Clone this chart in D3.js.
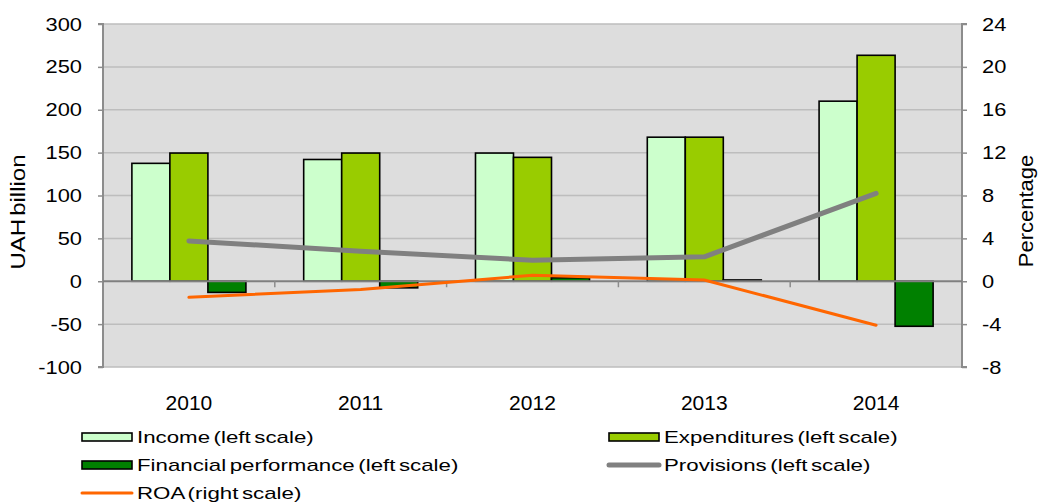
<!DOCTYPE html>
<html>
<head>
<meta charset="utf-8">
<script src="https://cdn.jsdelivr.net/npm/d3@7"></script>
<style>
  html, body { margin: 0; padding: 0; background: #fff; }
  svg { display: block; font-family: "Liberation Sans", Arial, sans-serif; }
</style>
</head>
<body>
<svg id="chart" width="1038" height="502"></svg>
<script>
// Banking sector results, UAH billion (left) and ROA in percent (right)
const years = ["2010", "2011", "2012", "2013", "2014"];
const income = [137.5, 142, 149.5, 168, 210];
const expenditures = [149.5, 149.5, 144.5, 168, 263.5];
const financialPerformance = [-13, -7.7, 4, 1.5, -52.5];
const provisions = [47, 35, 24.5, 28.5, 102.5];
const roa = [-1.5, -0.76, 0.55, 0.12, -4.1];

const leftTicks = [-100, -50, 0, 50, 100, 150, 200, 250, 300];
const rightTicks = [-8, -4, 0, 4, 8, 12, 16, 20, 24];

const barSeries = ["income", "expenditures", "financial"];
const barValues = { income, expenditures, financial: financialPerformance };
const barColors = { income: "#ccffcc", expenditures: "#99cc00", financial: "#008000" };

const legendItems = [
  { label: "Income (left scale)", type: "bar", color: "#ccffcc" },
  { label: "Expenditures (left scale)", type: "bar", color: "#99cc00" },
  { label: "Financial performance (left scale)", type: "bar", color: "#008000" },
  { label: "Provisions (left scale)", type: "line", color: "#808080", width: 5 },
  { label: "ROA (right scale)", type: "line", color: "#ff6600", width: 3 }
];

const svg = d3.select("#chart");
const plot = { left: 103, right: 962, top: 24, bottom: 367 };

// widen glyphs horizontally while keeping the anchor point
function stretch(sel, k) {
  sel.each(function () {
    const len = this.getComputedTextLength();
    d3.select(this).attr("textLength", len * k).attr("lengthAdjust", "spacingAndGlyphs");
  });
}

const yL = d3.scaleLinear().domain([-100, 300]).range([plot.bottom, plot.top]);
const yR = d3.scaleLinear().domain([-8, 24]).range([plot.bottom, plot.top]);
const x0 = d3.scaleBand().domain(years).range([plot.left, plot.right]).padding(0);
const x1 = d3.scaleBand().domain(barSeries).range([0, x0.bandwidth()])
  .paddingInner(0).paddingOuter(0.76);

// plot background
svg.append("rect")
  .attr("x", plot.left).attr("y", plot.top)
  .attr("width", plot.right - plot.left).attr("height", plot.bottom - plot.top)
  .attr("fill", "#dddddd");

// horizontal gridlines
svg.append("g").selectAll("line").data(leftTicks.filter(d => d !== 0)).join("line")
  .attr("x1", plot.left).attr("x2", plot.right)
  .attr("y1", d => yL(d)).attr("y2", d => yL(d))
  .attr("stroke", "#bdbdbd").attr("stroke-width", 1.5);

// left axis
const leftAxis = svg.append("g")
  .attr("transform", `translate(${plot.left},0)`)
  .call(d3.axisLeft(yL).tickValues(leftTicks).tickSize(5).tickPadding(16).tickFormat(d => String(d)));
leftAxis.select(".domain").attr("stroke", "#8c8c8c").attr("stroke-width", 2).attr("d", `M-5,${plot.top}H0V${plot.bottom}H-5`);
leftAxis.selectAll(".tick line").attr("stroke", "#8c8c8c").attr("stroke-width", 1.5);
leftAxis.selectAll(".tick text").attr("fill", "#000").style("font-size", "19px").call(stretch, 1.15);

// right axis
const rightAxis = svg.append("g")
  .attr("transform", `translate(${plot.right},0)`)
  .call(d3.axisRight(yR).tickValues(rightTicks).tickSize(5).tickPadding(15).tickFormat(d => String(d)));
rightAxis.select(".domain").attr("stroke", "#8c8c8c").attr("stroke-width", 2).attr("d", `M5,${plot.top}H0V${plot.bottom}H5`);
rightAxis.selectAll(".tick line").attr("stroke", "#8c8c8c").attr("stroke-width", 1.5);
rightAxis.selectAll(".tick text").attr("fill", "#000").style("font-size", "19px").call(stretch, 1.15);

// bars
const groups = svg.append("g").selectAll("g").data(years).join("g")
  .attr("transform", d => `translate(${x0(d)},0)`);
groups.selectAll("rect")
  .data((yr, i) => barSeries.map(s => ({ s, v: barValues[s][i] })))
  .join("rect")
  .attr("x", d => x1(d.s))
  .attr("width", x1.bandwidth())
  .attr("y", d => yL(Math.max(0, d.v)))
  .attr("height", d => Math.abs(yL(d.v) - yL(0)))
  .attr("fill", d => barColors[d.s])
  .attr("stroke", "#000").attr("stroke-width", 1.6);

// zero line with category ticks
svg.append("line")
  .attr("x1", plot.left).attr("x2", plot.right)
  .attr("y1", yL(0)).attr("y2", yL(0))
  .attr("stroke", "#808080").attr("stroke-width", 2);
svg.append("g").selectAll("line").data(years.slice(1)).join("line")
  .attr("x1", d => x0(d)).attr("x2", d => x0(d))
  .attr("y1", yL(0)).attr("y2", yL(0) + 6)
  .attr("stroke", "#8c8c8c").attr("stroke-width", 1.5);

// category labels
svg.append("g").selectAll("text").data(years).join("text")
  .attr("x", d => x0(d) + x0.bandwidth() / 2)
  .attr("y", 410)
  .attr("text-anchor", "middle")
  .style("font-size", "20px")
  .text(d => d)
  .call(stretch, 1.05);

// lines
const cx = d => x0(d) + x0.bandwidth() / 2;
const provLine = d3.line().x((d, i) => cx(years[i])).y(d => yL(d));
svg.append("path").datum(provisions)
  .attr("d", provLine)
  .attr("fill", "none").attr("stroke", "#808080").attr("stroke-width", 5)
  .attr("stroke-linecap", "round").attr("stroke-linejoin", "round");

const roaLine = d3.line().x((d, i) => cx(years[i])).y(d => yR(d));
svg.append("path").datum(roa)
  .attr("d", roaLine)
  .attr("fill", "none").attr("stroke", "#ff6600").attr("stroke-width", 3)
  .attr("stroke-linecap", "round").attr("stroke-linejoin", "round");

// axis titles
svg.append("text")
  .attr("transform", "translate(25,212) rotate(-90)")
  .attr("text-anchor", "middle")
  .style("font-size", "20px")
  .style("word-spacing", "-3px")
  .text("UAH billion")
  .call(stretch, 1.2);
svg.append("text")
  .attr("transform", "translate(1033,211) rotate(-90)")
  .attr("text-anchor", "middle")
  .style("font-size", "20px")
  .text("Percentage")
  .call(stretch, 1.1);

// legend
const legendPos = [
  { x: 82, y: 437 }, { x: 609, y: 437 },
  { x: 82, y: 465 }, { x: 609, y: 465 },
  { x: 82, y: 493 }
];
const legend = svg.append("g").selectAll("g").data(legendItems).join("g")
  .attr("transform", (d, i) => `translate(${legendPos[i].x},${legendPos[i].y})`);
legend.filter(d => d.type === "bar").append("rect")
  .attr("x", 0).attr("y", -4).attr("width", 50).attr("height", 8)
  .attr("fill", d => d.color).attr("stroke", "#000").attr("stroke-width", 1.6);
legend.filter(d => d.type === "line").append("line")
  .attr("x1", 0).attr("x2", 50).attr("y1", 0).attr("y2", 0)
  .attr("stroke", d => d.color).attr("stroke-width", d => d.width)
  .attr("stroke-linecap", "round");
legend.append("text")
  .attr("x", 55).attr("y", 0).attr("dy", "0.35em")
  .style("font-size", "17px")
  .style("word-spacing", "-2px")
  .text(d => d.label)
  .call(stretch, 1.31);
</script>
</body>
</html>
